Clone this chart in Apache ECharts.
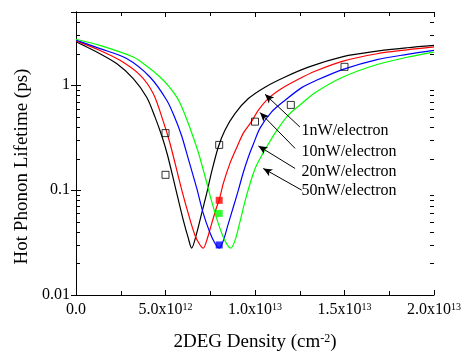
<!DOCTYPE html>
<html>
<head>
<meta charset="utf-8">
<script src="https://cdn.jsdelivr.net/npm/echarts@6/dist/echarts.min.js"></script>
<style>
  html, body { margin: 0; padding: 0; background: #fff; }
  #chart { width: 465px; height: 352px; }
</style>
</head>
<body>
<div id="chart"></div>
<script>
// density in units of 1e12 cm^-2, lifetime in ps
const UNIT = 1e12;

const curve1nW = [[0, 2.6], [1.34, 2.0], [2.27, 1.61], [3.2, 1.16], [3.95, 0.77], [4.41, 0.5], [4.79, 0.33],
  [5.1, 0.22], [5.53, 0.11], [5.99, 0.052], [6.27, 0.035], [6.46, 0.028], [6.74, 0.0387], [7.02, 0.06],
  [7.3, 0.093], [7.58, 0.15], [7.95, 0.258], [8.32, 0.373], [8.88, 0.537], [9.63, 0.747], [10.56, 0.96],
  [11.68, 1.2], [12.98, 1.49], [14.92, 1.88], [16.82, 2.12], [18.5, 2.28], [20, 2.4]];

const curve10nW = [[0, 2.65], [1.34, 2.15], [2.46, 1.73], [3.58, 1.25], [4.32, 0.83], [4.88, 0.45], [5.25, 0.28],
  [5.91, 0.1], [6.27, 0.06], [6.65, 0.037], [6.93, 0.03], [7.11, 0.028], [7.3, 0.033], [7.58, 0.048],
  [7.86, 0.069], [8.0, 0.08], [8.23, 0.116], [8.6, 0.18], [8.98, 0.255], [9.35, 0.35], [9.8, 0.45],
  [10.19, 0.58], [10.74, 0.747], [11.49, 0.93], [12.42, 1.14], [13.35, 1.36], [14.92, 1.7], [16.82, 2.0],
  [18.5, 2.18], [20, 2.32]];

const curve20nW = [[0, 2.7], [1.34, 2.24], [2.83, 1.8], [4.13, 1.2], [5.07, 0.72], [5.5, 0.5], [5.9, 0.33],
  [6.27, 0.2], [6.74, 0.105], [7.11, 0.06], [7.49, 0.039], [7.77, 0.031], [8.0, 0.028], [8.23, 0.033],
  [8.51, 0.048], [8.79, 0.069], [9.07, 0.1], [9.35, 0.148], [9.63, 0.207], [9.91, 0.275], [10.28, 0.39],
  [10.93, 0.557], [11.68, 0.72], [12.61, 0.95], [13.35, 1.1], [14.92, 1.42], [16.82, 1.76], [18.5, 1.97], [20, 2.15]];

const curve50nW = [[0, 2.75], [1.34, 2.4], [3.2, 1.86], [4.0, 1.5], [4.69, 1.2], [5.2, 0.97], [5.63, 0.77],
  [5.91, 0.62], [6.3, 0.42], [6.83, 0.23], [7.21, 0.135], [7.58, 0.078], [7.95, 0.048], [8.32, 0.033],
  [8.64, 0.028], [8.88, 0.033], [9.16, 0.05], [9.44, 0.078], [9.72, 0.115], [10.0, 0.16], [10.28, 0.2],
  [10.6, 0.25], [11.21, 0.37], [11.86, 0.52], [12.61, 0.67], [13.35, 0.85], [14.92, 1.2], [16.82, 1.58],
  [18.5, 1.85], [20, 2.07]];

const measured = [[5, 0.35], [5, 0.14], [8, 0.27], [10, 0.45], [12, 0.65], [15, 1.5]];
const measuredFilled = [[8, 0.08], [8, 0.06], [8, 0.03]];
const filledColors = ['#ff0000', '#00ff00', '#0000ff'];

const seriesNames = ['1nW/electron', '10nW/electron', '20nW/electron', '50nW/electron'];
const seriesColors = ['#000000', '#ff0000', '#0000ff', '#00ff00'];
// arrow [from, to] per label, same units as the curves
const arrows = [
  [[12.51, 0.40], [10.56, 0.82]],
  [[12.24, 0.25], [10.28, 0.55]],
  [[12.24, 0.161], [10.19, 0.264]],
  [[12.61, 0.10], [10.46, 0.161]],
];
const labelAnchors = [[12.6, 0.366], [12.6, 0.232], [12.6, 0.150], [12.6, 0.098]];

const yTickValues = [0.01, 0.1, 1];
const FONT = 'Liberation Serif';

const scale = (pts) => pts.map(([x, y]) => [x * UNIT, y]);

const chart = echarts.init(document.getElementById('chart'), null, { renderer: 'canvas' });

function xLabel(v) {
  if (v === 0) return '0.0';
  const e = Math.floor(Math.log10(v) + 1e-9);
  const m = v / Math.pow(10, e);
  return `{b|${m.toFixed(1)}x10}{s|${e}}`;
}

const axisCommon = {
  axisLine: { lineStyle: { color: '#000', width: 1 } },
  axisTick: { inside: true, length: 5, lineStyle: { color: '#000' } },
  splitLine: { show: false },
};

const lines = [curve1nW, curve10nW, curve20nW, curve50nW].map((pts, i) => ({
  name: seriesNames[i],
  type: 'line',
  data: scale(pts),
  showSymbol: false,
  smooth: 0.3,
  lineStyle: { color: seriesColors[i], width: 1.2 },
  itemStyle: { color: seriesColors[i] },
  z: 2,
}));

lines[0].markLine = {
  silent: true,
  symbol: ['none', 'arrow'],
  symbolSize: [6, 9],
  label: { show: false },
  lineStyle: { color: '#000', width: 1, type: 'solid' },
  data: arrows.map(([a, b]) => [{ coord: [a[0] * UNIT, a[1]] }, { coord: [b[0] * UNIT, b[1]] }]),
};

chart.setOption({
  animation: false,
  grid: { left: 76, right: 31, top: 12, bottom: 57, outerBoundsMode: 'none', containLabel: false },
  xAxis: [
    {
      ...axisCommon,
      type: 'value',
      min: 0,
      max: 20 * UNIT,
      interval: 5 * UNIT,
      minorTick: { show: true, splitNumber: 2, length: 4, lineStyle: { color: '#000' } },
      axisLabel: {
        color: '#000',
        margin: 7,
        formatter: xLabel,
        rich: {
          b: { fontFamily: FONT, fontSize: 16, color: '#000' },
          s: { fontFamily: FONT, fontSize: 10, color: '#000', verticalAlign: 'top' },
        },
        fontFamily: FONT,
        fontSize: 16,
      },
      name: '2DEG Density (cm{s|-2})',
      nameLocation: 'middle',
      nameGap: 38,
      nameTextStyle: {
        fontFamily: FONT,
        fontSize: 19,
        color: '#000',
        rich: { s: { fontFamily: FONT, fontSize: 12, color: '#000', verticalAlign: 'top' } },
      },
    },
    {
      ...axisCommon,
      type: 'value',
      position: 'top',
      min: 0,
      max: 20 * UNIT,
      interval: 5 * UNIT,
      minorTick: { show: true, splitNumber: 2, length: 4, lineStyle: { color: '#000' } },
      axisLabel: { show: false },
    },
  ],
  yAxis: [
    {
      ...axisCommon,
      type: 'log',
      logBase: 10,
      min: 0.01,
      max: 5,
      axisLabel: {
        color: '#000',
        fontFamily: FONT,
        fontSize: 16,
        margin: 6,
        showMaxLabel: false,
        formatter: (v) => (yTickValues.some((t) => Math.abs(t - v) < 1e-9) ? String(v) : ''),
      },
      name: 'Hot Phonon Lifetime (ps)',
      nameLocation: 'middle',
      nameGap: 41,
      nameTextStyle: { fontFamily: FONT, fontSize: 19, color: '#000', padding: [0, 26, 0, 0] },
    },
    {
      ...axisCommon,
      type: 'log',
      logBase: 10,
      position: 'right',
      min: 0.01,
      max: 5,
      axisLabel: { show: false },
    },
  ],
  series: [
    ...lines,
    {
      type: 'scatter',
      data: scale(measured),
      symbol: 'rect',
      symbolSize: 7,
      itemStyle: { color: 'rgba(255,255,255,0)', borderColor: '#000', borderWidth: 1 },
      z: 3,
    },
    {
      type: 'scatter',
      data: scale(measuredFilled).map((p, i) => ({ value: p, itemStyle: { color: filledColors[i] } })),
      symbol: 'rect',
      symbolSize: 7,
      z: 4,
    },
  ],
});

// log minor ticks (2..9 per decade) on left and right edges, plus the labels
const graphics = [];
const xLeft = chart.convertToPixel({ xAxisIndex: 0 }, 0);
const xRight = chart.convertToPixel({ xAxisIndex: 0 }, 20 * UNIT);
for (let dec = 0.01; dec < 5; dec *= 10) {
  for (let k = 2; k <= 9; k++) {
    const v = dec * k;
    if (v >= 5) break;
    const py = Math.round(chart.convertToPixel({ yAxisIndex: 0 }, v)) + 0.5;
    graphics.push({ type: 'line', shape: { x1: xLeft, y1: py, x2: xLeft + 4, y2: py }, style: { stroke: '#000', lineWidth: 1 } });
    graphics.push({ type: 'line', shape: { x1: xRight, y1: py, x2: xRight - 4, y2: py }, style: { stroke: '#000', lineWidth: 1 } });
  }
}
labelAnchors.forEach(([x, y], i) => {
  const [px, py] = chart.convertToPixel({ xAxisIndex: 0, yAxisIndex: 0 }, [x * UNIT, y]);
  graphics.push({
    type: 'text',
    x: px,
    y: py,
    style: { text: seriesNames[i], fontFamily: FONT, fontSize: 16, fill: '#000', textVerticalAlign: 'middle' },
  });
});
chart.setOption({ graphic: graphics });
</script>
</body>
</html>
